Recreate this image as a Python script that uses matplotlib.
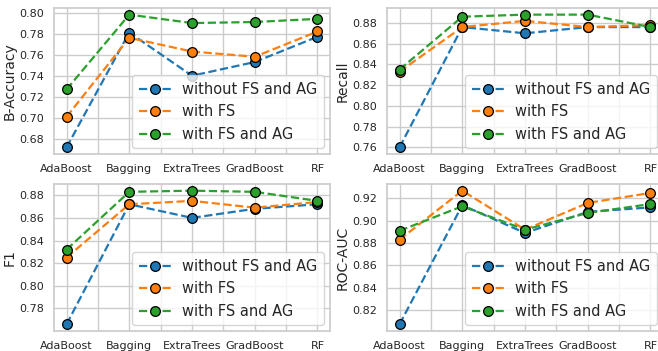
import matplotlib
matplotlib.use("Agg")
import matplotlib.pyplot as plt
from matplotlib.ticker import MultipleLocator, FormatStrFormatter
import seaborn as sns
import numpy as np

sns.set_theme(style="whitegrid")
plt.rcParams['font.family'] = ['DejaVu Sans']

models = ["AdaBoost", "Bagging", "ExtraTrees", "GradBoost", "RF"]
series_names = ["without FS and AG", "with FS", "with FS and AG"]
colors = ["#1f77b4", "#ff7f0e", "#2ca02c"]

bacc_none = [0.672, 0.781, 0.740, 0.753, 0.777]
bacc_fs = [0.701, 0.776, 0.763, 0.758, 0.782]
bacc_fsag = [0.727, 0.798, 0.790, 0.791, 0.794]

recall_none = [0.760, 0.876, 0.870, 0.876, 0.876]
recall_fs = [0.833, 0.876, 0.882, 0.876, 0.878]
recall_fsag = [0.835, 0.886, 0.888, 0.888, 0.876]

f1_none = [0.766, 0.872, 0.860, 0.868, 0.872]
f1_fs = [0.825, 0.872, 0.875, 0.869, 0.874]
f1_fsag = [0.832, 0.883, 0.884, 0.883, 0.875]

roc_none = [0.807, 0.914, 0.889, 0.908, 0.912]
roc_fs = [0.883, 0.927, 0.892, 0.916, 0.925]
roc_fsag = [0.891, 0.913, 0.892, 0.907, 0.915]

panels = [
    ("B-Accuracy", [bacc_none, bacc_fs, bacc_fsag]),
    ("Recall", [recall_none, recall_fs, recall_fsag]),
    ("F1", [f1_none, f1_fs, f1_fsag]),
    ("ROC-AUC", [roc_none, roc_fs, roc_fsag]),
]

W, H = 658, 351
fig = plt.figure(figsize=(W / 100, H / 100), dpi=100)
# pixel boxes: (left, top, right, bottom)
boxes = [(54, 8, 330, 154), (387, 8, 663, 154), (54, 184, 330, 331), (387, 184, 663, 331)]
axes = [fig.add_axes([l / W, 1 - b / H, (r - l) / W, (b - t) / H]) for (l, t, r, b) in boxes]

x = np.arange(len(models))
for ax, (ylabel, data) in zip(axes, panels):
    for vals, name, c in zip(data, series_names, colors):
        ax.plot(x, vals, linestyle="--", marker="o", color=c, markersize=7,
                markeredgecolor="black", markeredgewidth=0.9, linewidth=1.6, label=name)
    ticks = np.arange(0, len(models) - 0.5, 0.5)
    ax.set_xticks(ticks)
    ax.set_xticklabels([models[int(t)] if t == int(t) else "" for t in ticks], fontsize=8)
    ax.yaxis.set_major_locator(MultipleLocator(0.02))
    ax.yaxis.set_major_formatter(FormatStrFormatter("%.2f"))
    ax.tick_params(axis="y", labelsize=8, pad=1)
    ax.tick_params(axis="x", pad=1)
    ax.set_ylabel(ylabel, fontsize=10, labelpad=2)
    ax.set_xlim(-0.2, 4.2)
    for s in ax.spines.values():
        s.set_color("#cccccc")
    ax.legend(loc="lower right", fontsize=10.5, handlelength=2.2, borderpad=0.45,
              labelspacing=0.5, borderaxespad=0.4)

fig.savefig("out.png", dpi=100)
